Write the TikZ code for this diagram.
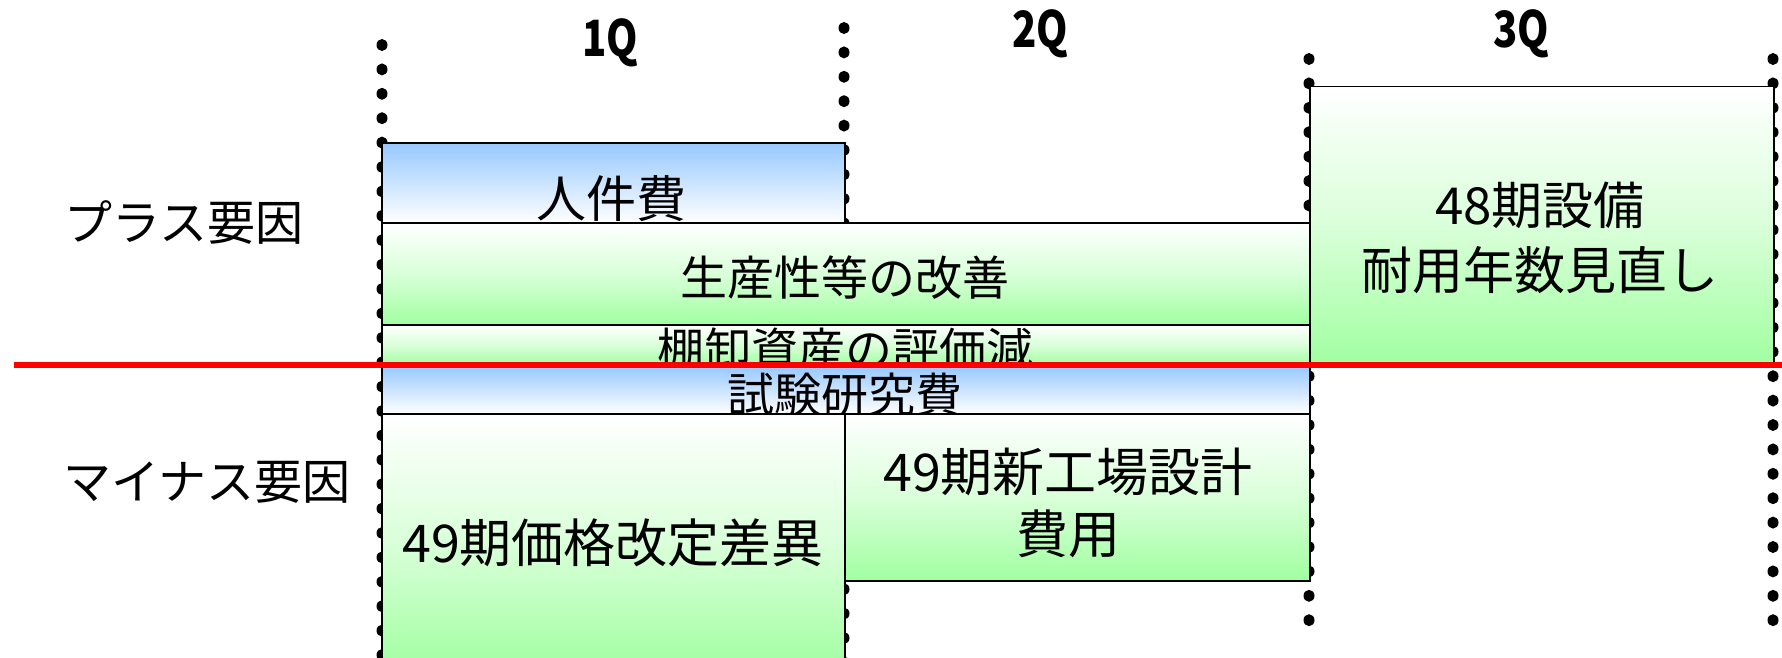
\documentclass[tikz,border=0pt]{standalone}
\usepackage{fontspec}
\setmainfont{Noto Sans CJK JP}
\newfontfamily\qfont[FakeStretch=0.8]{Noto Sans CJK JP}
\definecolor{gbar}{RGB}{160,255,160}
\definecolor{bbar}{RGB}{150,200,255}
\definecolor{redline}{RGB}{255,0,0}
\tikzset{
  dotmark/.style={fill=black},
  gbox/.style={draw=black, line width=1.5pt, rectangle, inner sep=0pt, anchor=north west, top color=white, bottom color=gbar, middle color=gbar!40},
  bbox/.style={draw=black, line width=1.5pt, rectangle, inner sep=0pt, anchor=north west, top color=bbar, bottom color=white},
  txt/.style={inner sep=0pt, font=\fontsize{48}{60}\selectfont, align=center},
  qlab/.style={inner sep=0pt, font=\qfont\bfseries\fontsize{50}{54}\selectfont},
}
\begin{document}
\begin{tikzpicture}[x=1pt,y=-1pt]
\useasboundingbox (0,0) rectangle (1782,658);
% dotted quarter separators
\foreach \y in {45,69.4,...,665} \fill[dotmark] (382,\y) ellipse (5.5pt and 6pt);
\foreach \y in {28,52.4,...,665} \fill[dotmark] (844,\y) ellipse (5.5pt and 6pt);
\foreach \y in {59,83.4,...,625} \fill[dotmark] (1309,\y) ellipse (5.5pt and 6pt);
\foreach \y in {59,83.4,...,625} \fill[dotmark] (1773,\y) ellipse (5.5pt and 6pt);
% quarter labels
\node[qlab] (q1) at (610,43) {1Q};
\node[qlab] (q2) at (1040,34) {2Q};
\node[qlab] (q3) at (1521,34) {3Q};
% side labels
\node[txt] (plus) at (184,223) {プラス要因};
\node[txt] (minus) at (207,482) {マイナス要因};
% boxes
\node[bbox, minimum width=463pt, minimum height=80pt] (jinken) at (381,142) {};
\node[txt, font=\fontsize{50}{60}\selectfont] (tjinken) at (611,199) {人件費};
\node[gbox, minimum width=928pt, minimum height=102pt] (seisan) at (381,222) {};
\node[txt, font=\fontsize{47}{60}\selectfont] (tseisan) at (845,278) {生産性等の改善};
\node[gbox, minimum width=928pt, minimum height=41pt] (tana) at (381,324) {};
\node[txt, font=\fontsize{47}{60}\selectfont] (ttana) at (845,350) {棚卸資産の評価減};
\node[bbox, minimum width=928pt, minimum height=48pt] (shiken) at (381,365) {};
\node[txt, font=\fontsize{47}{60}\selectfont] (tshiken) at (845,395) {試験研究費};
\node[gbox, minimum width=463pt, minimum height=260pt] (kakaku) at (381,413) {};
\node[txt, font=\fontsize{52}{60}\selectfont] (tkakaku) at (613,543) {49期価格改定差異};
\node[gbox, minimum width=465pt, minimum height=167pt] (kojo) at (844,413) {};
\node[txt, font=\fontsize{52}{62}\selectfont] (tkojo) at (1068,503) {49期新工場設計\\費用};
\node[gbox, minimum width=464pt, minimum height=279pt] (setsubi) at (1309,86) {};
\node[txt, font=\fontsize{51}{65}\selectfont] (tsetsubi) at (1540,238) {48期設備\\耐用年数見直し};
% zero line
\coordinate (r0) at (14,365);
\coordinate (r1) at (1782,365);
\draw[redline, line width=6.5pt] (r0) -- (r1);
\end{tikzpicture}
\end{document}
